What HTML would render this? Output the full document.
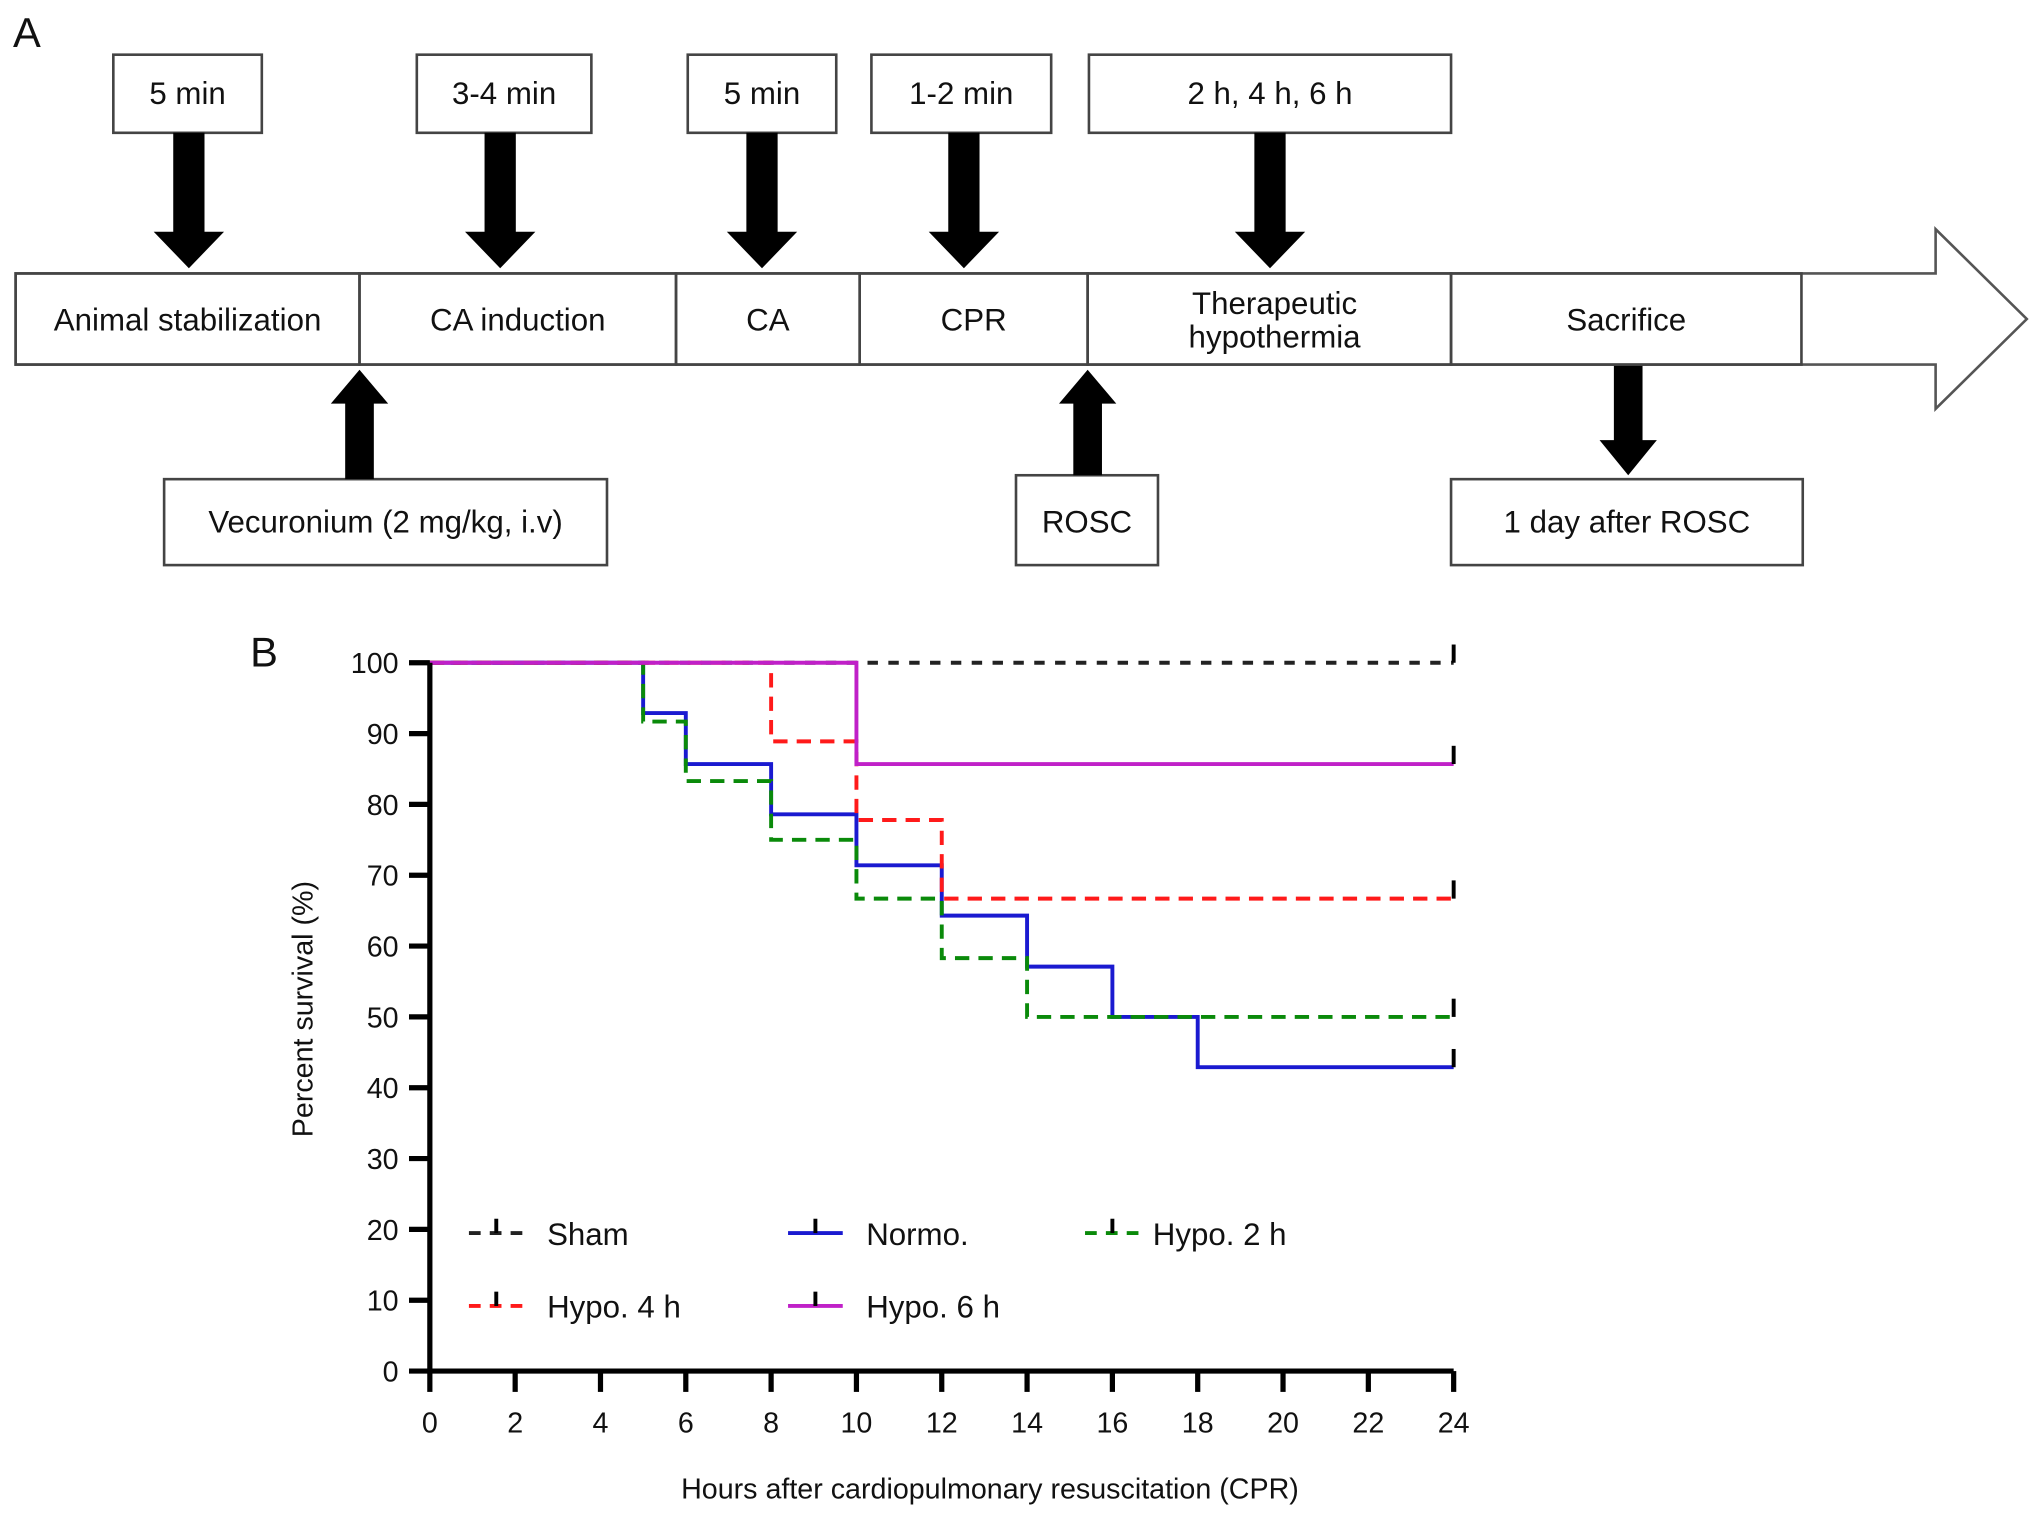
<!DOCTYPE html>
<html><head><meta charset="utf-8"><style>
html,body{margin:0;padding:0;background:#fff}
svg{display:block}
text{font-family:"Liberation Sans",Arial,sans-serif;fill:#111}
</style></head><body>
<svg id="fig" width="2032" height="1513" viewBox="0 0 1560 1162" preserveAspectRatio="none">
<g id="panelA">
<text x="10" y="36" font-size="32">A</text>
</g>
<g id="panelB">
<text x="192" y="512" font-size="32">B</text>
</g>
</svg>
<script>
const NS='http://www.w3.org/2000/svg';
function mk(parent,tag,attrs,txt){const e=document.createElementNS(NS,tag);for(const k in attrs)e.setAttribute(k,attrs[k]);if(txt!==undefined)e.textContent=txt;parent.appendChild(e);return e;}
const A=document.getElementById('panelA');
// timeline bar
let bar=mk(A,'path',{d:'M12,210 H1486 V176 L1556,245 L1486,314 V280 H12 Z',fill:'#fff',stroke:'#555','stroke-width':2});


const stages=[['Animal stabilization',12,276],['CA induction',276,519],['CA',519,660],['CPR',660,835],['Therapeutic|hypothermia',835,1114],['Sacrifice',1114,1383]];
stages.forEach((s,i)=>{
  const r=mk(A,'rect',{x:s[1],y:210,width:s[2]-s[1],height:70,fill:'none',stroke:'#444','stroke-width':2});
  
  
  const lines=s[0].split('|');const cx=(s[1]+s[2])/2+(i==4?4:0);
  lines.forEach((l,j)=>{const t=mk(A,'text',{x:cx,y:lines.length==1?254:241+j*26,'font-size':24,'text-anchor':'middle'},l);
  
  });
});
const topBoxes=[['5 min',87,201,145],['3-4 min',320,454,384],['5 min',528,642,585],['1-2 min',669,807,740],['2 h, 4 h, 6 h',836,1114,975]];
topBoxes.forEach(b=>{
  const r=mk(A,'rect',{x:b[1],y:42,width:b[2]-b[1],height:60,fill:'#fff',stroke:'#444','stroke-width':2});
  
  
  const t=mk(A,'text',{x:(b[1]+b[2])/2,y:80,'font-size':24,'text-anchor':'middle'},b[0]);
  
  
  const c=b[3];
  const a=mk(A,'path',{d:`M${c-12},102 V178 H${c-27} L${c},206 L${c+27},178 H${c+12} V102 Z`,fill:'#000'});
  
  
});
const botBoxes=[['Vecuronium (2 mg/kg, i.v)',126,466,368,276,'up'],['ROSC',780,889,365,835,'up'],['1 day after ROSC',1114,1384,368,1250,'down']];
botBoxes.forEach(b=>{
  const r=mk(A,'rect',{x:b[1],y:b[3],width:b[2]-b[1],height:434-b[3],fill:'#fff',stroke:'#444','stroke-width':2});
  
  
  const t=mk(A,'text',{x:(b[1]+b[2])/2,y:409,'font-size':24,'text-anchor':'middle'},b[0]);
  
  
  const c=b[4];let d;
  if(b[5]=='up')d=`M${c-11},${b[3]} V310 H${c-22} L${c},284 L${c+22},310 H${c+11} V${b[3]} Z`;
  else d=`M${c-11},281 V338 H${c-22} L${c},365 L${c+22},338 H${c+11} V281 Z`;
  const a=mk(A,'path',{d:d,fill:'#000'});
  
  
});

// ---------- Chart data ----------
const xTicks=[0,2,4,6,8,10,12,14,16,18,20,22,24];
const yTicks=[0,10,20,30,40,50,60,70,80,90,100];
const seriesNames=['Sham','Normo.','Hypo. 2 h','Hypo. 4 h','Hypo. 6 h'];
const shamTimes=[0], shamVals=[100];
const normoTimes=[0,5,6,8,10,12,14,16,18], normoVals=[100,92.9,85.7,78.6,71.4,64.3,57.1,50,42.9];
const hypo2Times=[0,5,6,8,10,12,14], hypo2Vals=[100,91.7,83.3,75,66.7,58.3,50];
const hypo4Times=[0,8,10,12], hypo4Vals=[100,88.9,77.8,66.7];
const hypo6Times=[0,10], hypo6Vals=[100,85.7];
const endTime=24;

const B=document.getElementById('panelB');
const X=v=>330+(v/24)*786, Y=v=>1053-(v/100)*544;
const styles=[{c:'#222',d:'8 8'},{c:'#1a1ad0',d:''},{c:'#0a8a0a',d:'11 7'},{c:'#ff1a1a',d:'11 7'},{c:'#c020c8',d:''}];
const data=[[shamTimes,shamVals],[normoTimes,normoVals],[hypo2Times,hypo2Vals],[hypo4Times,hypo4Vals],[hypo6Times,hypo6Vals]];
const keys=['sham','normo','hypo-2h','hypo-4h','hypo-6h'];
data.forEach((s,i)=>{
  const [t,v]=s;let d=`M${X(t[0])},${Y(v[0])}`;
  for(let k=1;k<t.length;k++){d+=` H${X(t[k])} V${Y(v[k])}`;}
  d+=` H${X(endTime)}`;
  const p=mk(B,'path',{d:d,fill:'none',stroke:styles[i].c,'stroke-width':3,'stroke-dasharray':styles[i].d});
  
  
  const last=v[v.length-1];
  const c=mk(B,'line',{x1:X(endTime),x2:X(endTime),y1:Y(last)-14,y2:Y(last),stroke:'#000','stroke-width':3});
  
  
});
// axes
let ax=mk(B,'path',{d:`M${X(0)},${Y(100)} V${Y(0)} H${X(24)}`,fill:'none',stroke:'#000','stroke-width':4});


yTicks.forEach(v=>{
  const l=mk(B,'line',{x1:X(0)-16,x2:X(0),y1:Y(v),y2:Y(v),stroke:'#000','stroke-width':4});
  
  
  const t=mk(B,'text',{x:306,y:Y(v)+8,'font-size':22,'text-anchor':'end'},String(v));
  
  
});
xTicks.forEach(v=>{
  const l=mk(B,'line',{x1:X(v),x2:X(v),y1:Y(0),y2:Y(0)+16,stroke:'#000','stroke-width':4});
  
  
  const t=mk(B,'text',{x:X(v),y:1100,'font-size':22,'text-anchor':'middle'},String(v));
  
  
});
let yt=mk(B,'text',{x:0,y:0,'font-size':22,'text-anchor':'middle',transform:'translate(240,775) rotate(-90)'},'Percent survival (%)');


let xt=mk(B,'text',{x:760,y:1151,'font-size':22,'text-anchor':'middle'},'Hours after cardiopulmonary resuscitation (CPR)');


// legend
const legPos=[[360,947],[605,947],[833,947],[360,1003],[605,1003]];
seriesNames.forEach((n,i)=>{
  const [lx,ly]=legPos[i];
  const g=mk(B,'g',{});
  
  
  mk(g,'line',{x1:lx,x2:lx+42,y1:ly,y2:ly,stroke:styles[i].c,'stroke-width':3,'stroke-dasharray':styles[i].d?'9 7':''});
  mk(g,'line',{x1:lx+21,x2:lx+21,y1:ly-11,y2:ly,stroke:'#000','stroke-width':3});
  mk(g,'text',{x:lx+(i==2?52:60),y:ly+9,'font-size':24},n);
});
</script>
</body></html>
